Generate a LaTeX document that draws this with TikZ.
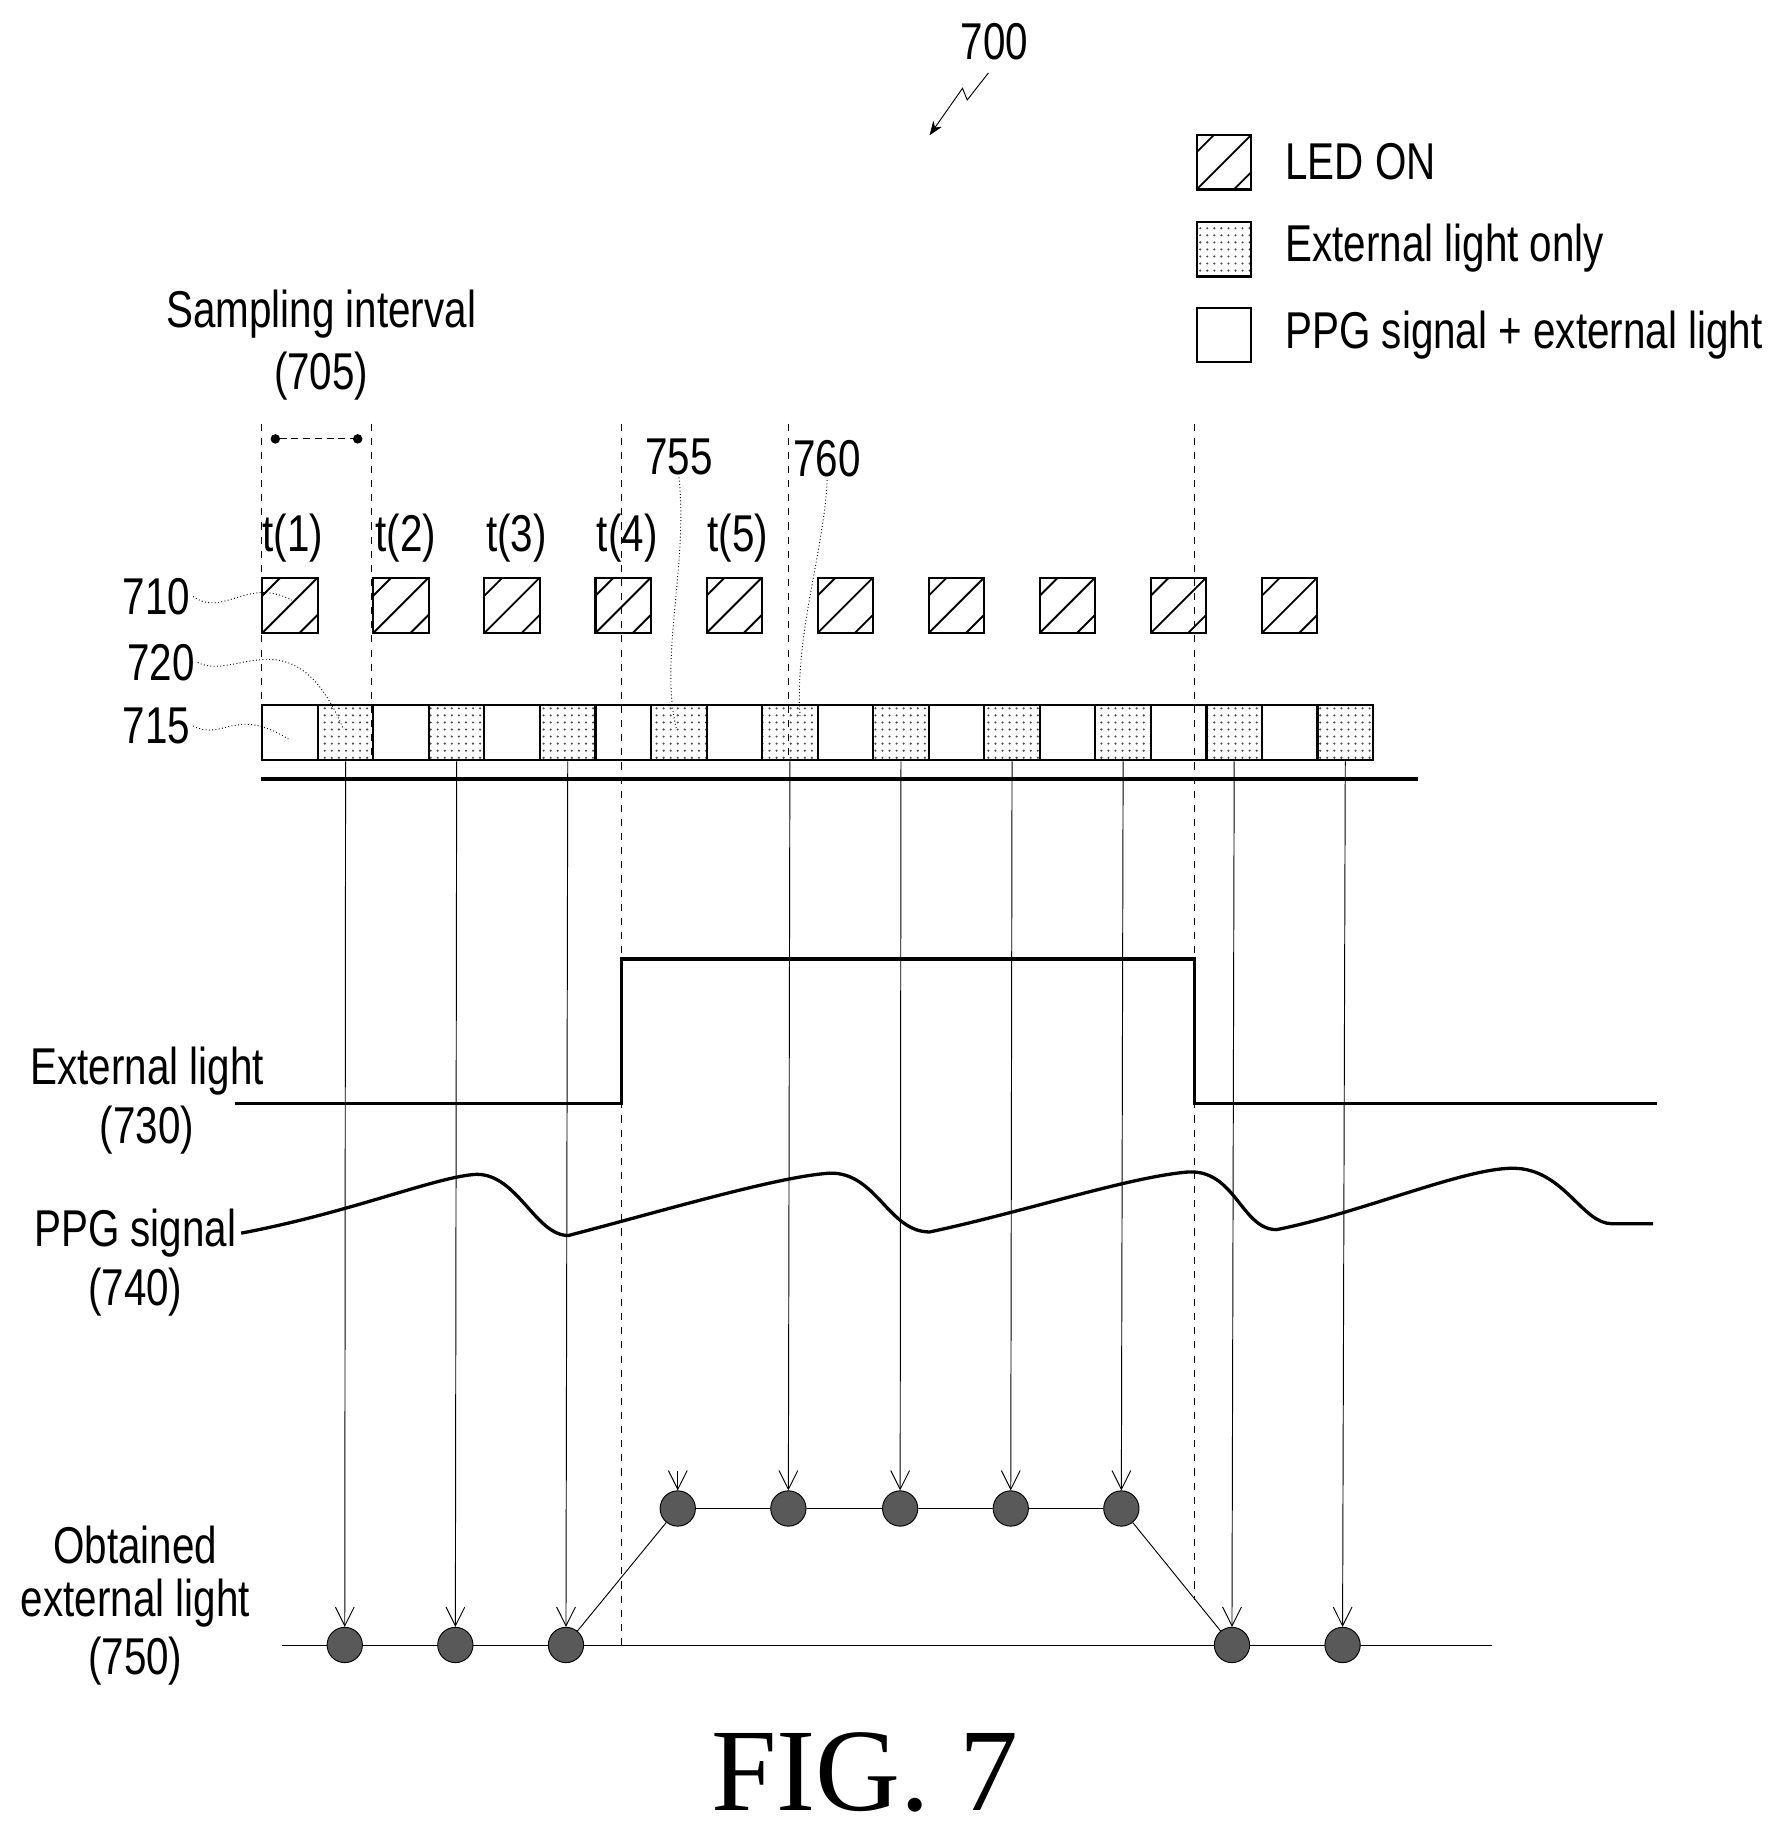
\documentclass[tikz,border=0pt]{standalone}
\usepackage{fontspec}
\setmainfont[FakeStretch=0.78]{Liberation Sans}
\newfontfamily\figfont{Liberation Serif}
\usetikzlibrary{patterns,arrows.meta,positioning}
\tikzset{
  lbl/.style={font=\fontsize{22}{26}\selectfont, inner sep=1pt, align=center},
  led/.style={draw, line width=0.9pt, path picture={
      \foreach \s in {-0.66,0,0.66}
        \draw[line width=0.8pt] ([xshift=\s*24pt]path picture bounding box.south west) -- ++(24pt,24pt);}},
  ext/.style={draw, line width=0.9pt, pattern=dots, pattern color=black!70},
  plain/.style={draw, line width=0.9pt},
  dashv/.style={dashed, thin},
  samp/.style={thin, -{Straight Barb[length=8pt,width=8pt]}},
  dot/.style={circle, draw, fill=black!65, minimum size=15pt, inner sep=0pt},
  leader/.style={thin, densely dotted}
}
\begin{document}
\begin{tikzpicture}[x=0.5pt,y=-0.5pt]
  \useasboundingbox (0,0) rectangle (1520,1568);
  % figure number
  \node[lbl] (n700) at (845,35) {700};
  \draw[thin,-{Stealth[length=6pt]}] (840,62) -- (822,85) -- (818,75) -- (790,115);
  % legend
  \node[led, minimum size=23pt, inner sep=0pt] (kled) at (1040,138) {};
  \node[ext, minimum size=23pt, inner sep=0pt] (kext) at (1040,212) {};
  \node[plain, minimum size=23pt, inner sep=0pt] (kppg) at (1040,285) {};
  \node[lbl, anchor=west] (tled) at (1090,137) {LED ON};
  \node[lbl, anchor=west] (text) at (1090,211) {External light only};
  \node[lbl, anchor=west] (tppg) at (1090,285) {PPG signal + external light};
  % sampling interval
  \node[lbl] (samp) at (273,267) {Sampling interval};
  \node[lbl] (s705) at (273,320) {(705)};
  \draw[densely dashed, {Circle[length=4pt]}-{Circle[length=4pt]}] (230,373) -- (308,373);
  % dashed guides
  \foreach \x/\yb in {222/645, 316/645, 528/1400, 670/645, 1015/1360}
    \draw[dashv] (\x,360) -- (\x,\yb);
  % time labels
  \foreach \i/\x in {1/249, 2/345, 3/439, 4/533, 5/627}
    \node[lbl] (t\i) at (\x,457) {t(\i)};
  % LED row
  \foreach \i in {0,...,9}
    \node[led, minimum size=23.5pt, inner sep=0pt, anchor=north west] (led\i) at (222+94.4*\i,490) {};
  % sample row
  \foreach \i in {0,...,9} {
    \node[plain, minimum size=23.6pt, inner sep=0pt, anchor=north west] (on\i) at (222+94.4*\i,598) {};
    \node[ext, minimum size=23.6pt, inner sep=0pt, anchor=north west] (off\i) at (269.2+94.4*\i,598) {};
  }
  \draw[line width=1.5pt] (222,662) -- (1205,662);
  % reference labels
  \node[lbl] (r710) at (133,507) {710};
  \node[lbl] (r720) at (137,563) {720};
  \node[lbl] (r715) at (133,617) {715};
  \node[lbl] (r755) at (577,388) {755};
  \node[lbl] (r760) at (703,390) {760};
  \draw[leader] (r710.east) .. controls (190,525) and (210,490) .. (248,510);
  \draw[leader] (r720.east) .. controls (200,580) and (250,520) .. (292,620);
  \draw[leader] (r715.east) .. controls (190,630) and (200,600) .. (245,628);
  \draw[leader] (r755.south) .. controls (585,480) and (560,560) .. (575,620);
  \draw[leader] (r760.south) .. controls (700,470) and (675,540) .. (680,610);
  % external light
  \node[lbl] (l730a) at (125,910) {External light};
  \node[lbl] (l730b) at (125,960) {(730)};
  \draw[line width=1.4pt] (200,938) -- (528,938) -- (528,815) -- (1015,815) -- (1015,938) -- (1408,938);
  % PPG signal
  \node[lbl] (l740a) at (115,1048) {PPG signal};
  \node[lbl] (l740b) at (115,1098) {(740)};
  \draw[line width=1.4pt] (205,1048) .. controls (300,1030) and (370,1000) .. (405,998)
    .. controls (440,998) and (455,1050) .. (483,1050)
    .. controls (560,1030) and (660,1000) .. (705,997)
    .. controls (745,996) and (755,1047) .. (790,1047)
    .. controls (870,1030) and (960,1000) .. (1010,996)
    .. controls (1050,994) and (1055,1045) .. (1085,1045)
    .. controls (1160,1030) and (1250,990) .. (1290,993)
    .. controls (1330,996) and (1345,1040) .. (1370,1040) -- (1405,1040);
  % obtained external light
  \node[lbl] (l750a) at (115,1313) {Obtained};
  \node[lbl] (l750b) at (115,1362) {external light};
  \node[lbl] (l750c) at (115,1412) {(750)};
  \draw[thin] (240,1398) -- (1268,1398);
  \foreach \i/\x in {0/293, 1/387, 2/481, 8/1047, 9/1141}
    \node[dot] (d\i) at (\x,1398) {};
  \foreach \i/\x in {3/576, 4/670, 5/765, 6/859, 7/953}
    \node[dot] (d\i) at (\x,1282) {};
  \draw[thin] (d2) -- (d3) -- (d4) -- (d5) -- (d6) -- (d7) -- (d8);
  \foreach \i in {0,1,2,4,5,6,7,8,9}
    \draw[samp] (off\i.south) -- (d\i.north);
  \draw[samp] (576,1250) -- (d3.north);
  \node[font=\figfont\fontsize{50}{54}\selectfont] (fig) at (735,1506) {FIG. 7};
\end{tikzpicture}
\end{document}
